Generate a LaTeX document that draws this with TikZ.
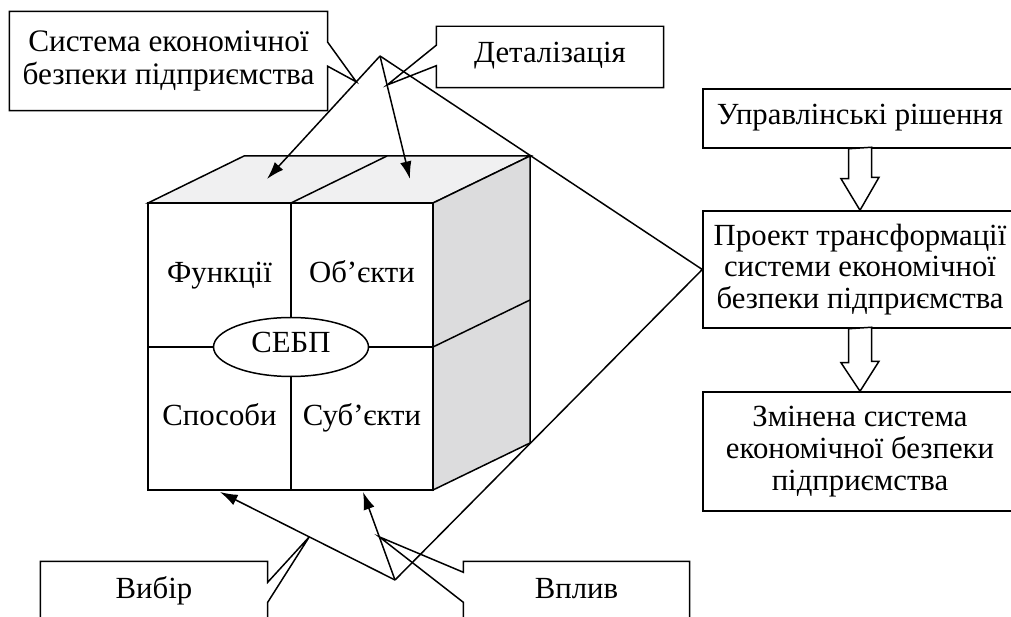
\documentclass[tikz,border=0pt]{standalone}
\usepackage{fontspec}
\setmainfont{Liberation Serif}
\usetikzlibrary{arrows.meta,calc,shapes.geometric}

\definecolor{topgray}{RGB}{240,240,241}
\definecolor{sidegray}{RGB}{220,220,221}

\tikzset{
  txt/.style={font=\fontsize{17.5}{18}\selectfont, align=center, inner sep=0pt},
  word/.style={txt, text height=0.66em, text depth=0pt},
  plainbox/.style={txt, draw, minimum width=6.28cm},
  ptr/.style={-{Latex[length=10pt,width=6.5pt]}},
  hollow/.style={draw, fill=white, line join=miter}
}

\begin{document}
\begin{tikzpicture}[x=0.02cm,y=-0.02cm,line width=0.85pt]
    \clip (0,0) rectangle (1011,617);

    % Cube: top and right faces
    \filldraw[fill=topgray] (148,203) -- (244,156) -- (530,156) -- (433,203) -- cycle;
    \draw (291,203) -- (387,156);
    \filldraw[fill=sidegray] (433,203) -- (530,156) -- (530,443) -- (433,490) -- cycle;
    \draw (433,347) -- (530,300);

    % Cube: front face
    \draw (148,203) rectangle (433,490);
    \draw (148,347) -- (433,347);
    \draw (291,203) -- (291,490);

    \node[word] (fnc) at (219.5,277) {Функції};
    \node[word] (obj) at (362,277) {Об’єкти};
    \node[word] (way) at (219.5,420) {Способи};
    \node[word] (sub) at (362,420) {Суб’єкти};
    \node[word, ellipse, draw, fill=white, minimum width=3.1cm, minimum height=1.18cm] (sebp) at (291,347) {СЕБП};

    % Arrow ends on the cube
    \coordinate (fnctop) at (267,179);
    \coordinate (objtop) at (410,179);
    \coordinate (waybot) at (220,492);
    \coordinate (subbot) at (363,492);
    \coordinate (topapex) at (380,56);
    \coordinate (botapex) at (395,580);

    % Right column
    \node[plainbox, word, minimum height=1.18cm] (mgmt) at (860,118.5) {Управлінські рішення};
    \node[plainbox, minimum height=2.34cm] (proj) at (860,269.5) {Проект трансформації\\системи економічної\\безпеки підприємства};
    \node[plainbox, minimum height=2.38cm] (chg) at (860,451.5) {Змінена система\\економічної безпеки\\підприємства};

    \draw[hollow] (mgmt.south) ++(-11.5,0) -- ++(0,30) -- ++(-7.5,0) -- (proj.north) -- ++(19,-33) -- ++(-7.5,0) -- ++(0,-30) -- cycle;
    \draw[hollow] (proj.south) ++(-11.5,0) -- ++(0,34) -- ++(-7.5,0) -- (chg.north) -- ++(19,-30) -- ++(-7.5,0) -- ++(0,-34) -- cycle;

    % Lines and arrows
    \draw (topapex) -- (proj.west) -- (botapex);
    \draw[ptr] (topapex) -- (fnctop);
    \draw[ptr] (topapex) -- (objtop);
    \draw[ptr] (botapex) -- (waybot);
    \draw[ptr] (botapex) -- (subbot);

    % Callouts
    \coordinate (sysptr) at ($(topapex)!0.21!(fnctop)$);
    \coordinate (detptr) at ($(topapex)!0.236!(objtop)$);
    \coordinate (choiceptr) at ($(botapex)!0.49!(waybot)$);
    \coordinate (inflptr) at ($(botapex)!0.49!(subbot)$);

    \node[txt, font=\fontsize{17.8}{19}\selectfont, minimum width=6.34cm, minimum height=1.96cm] (sys) at (168.5,61) {Система економічної\\безпеки підприємства};
    \draw (sys.north west) -- (sys.north east) -- ($(sys.north east)+(0,31)$) -- (sysptr) -- ($(sys.north east)+(0,55)$) -- (sys.south east) -- (sys.south west) -- cycle;

    \node[word, minimum width=4.52cm, minimum height=1.2cm] (det) at (550,57) {Деталізація};
    \draw (det.north west) -- (det.north east) -- (det.south east) -- (det.south west) -- ++(0,-22) -- (detptr) -- ($(det.north west)+(0,19)$) -- cycle;

    \node[word, minimum width=4.52cm, minimum height=1.24cm] (choice) at (154,593) {Вибір};
    \draw (choice.north west) -- (choice.north east) -- ++(0,21) -- (choiceptr) -- ($(choice.north east)+(0,41)$) -- (choice.south east) -- (choice.south west) -- cycle;

    \node[word, minimum width=4.5cm, minimum height=1.24cm] (infl) at (576.5,593) {Вплив};
    \draw (infl.north west) -- (infl.north east) -- (infl.south east) -- (infl.south west) -- ($(infl.north west)+(0,41)$) -- (inflptr) -- ($(infl.north west)+(0,11)$) -- cycle;
\end{tikzpicture}
\end{document}
